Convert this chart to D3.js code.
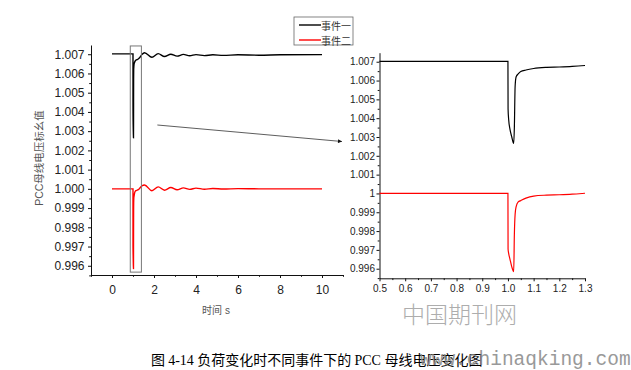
<!DOCTYPE html>
<html>
<head>
<meta charset="utf-8">
<script src="https://cdn.jsdelivr.net/npm/d3@7"></script>
<style>
  body { margin: 0; background: #fff; }
  svg { display: block; }
  .tick text { fill: #222; }
</style>
</head>
<body>
<script>
// time (s) and per-unit PCC bus voltage for the two events
const time = [0, 1.0, 1.0005, 1.003, 1.008, 1.015, 1.0225, 1.025, 1.028, 1.032, 1.04, 1.05, 1.07, 1.1, 1.15, 1.2, 1.25, 1.3,
              1.42, 1.55, 1.9, 2.2, 2.5, 2.8, 3.1, 3.4, 3.7, 4.0, 4.4, 4.8, 5.3, 6, 7, 8, 10];
const event1 = [1.00702, 1.00702, 1.00450, 1.00390, 1.00340, 1.00300, 1.00266, 1.00350, 1.00570, 1.00620, 1.00635, 1.00648, 1.00656, 1.00664, 1.00670, 1.00672, 1.00675, 1.00680,
                1.00698, 1.00708, 1.00684, 1.00703, 1.00688, 1.00700, 1.00690, 1.00699, 1.00692, 1.00698, 1.00693, 1.00697, 1.00694, 1.00697, 1.00695, 1.00697, 1.00698];
const event2 = [1.00000, 1.00000, 0.99705, 0.99680, 0.99650, 0.99610, 0.99585, 0.99780, 0.99890, 0.99930, 0.99955, 0.99962, 0.99975, 0.99986, 0.99991, 0.99993, 0.99996, 1.00001,
                1.00015, 1.00020, 0.99990, 1.00010, 0.99993, 1.00007, 0.99995, 1.00005, 0.99997, 1.00004, 0.99998, 1.00002, 0.99999, 1.00001, 1.00000, 1.00000, 1.00000];
const seriesNames = ["事件一", "事件二"];
const seriesColors = ["#000", "#f00"];

const leftXTicks = [0, 2, 4, 6, 8, 10];
const leftYTicks = [0.996, 0.997, 0.998, 0.999, 1.000, 1.001, 1.002, 1.003, 1.004, 1.005, 1.006, 1.007];
const leftYLabels = ["0.996", "0.997", "0.998", "0.999", "1.000", "1.001", "1.002", "1.003", "1.004", "1.005", "1.006", "1.007"];
const rightXTicks = [0.5, 0.6, 0.7, 0.8, 0.9, 1.0, 1.1, 1.2, 1.3];
const rightXLabels = ["0.5", "0.6", "0.7", "0.8", "0.9", "1.0", "1.1", "1.2", "1.3"];
const rightYLabels = ["0.996", "0.997", "0.998", "0.999", "1", "1.001", "1.002", "1.003", "1.004", "1.005", "1.006", "1.007"];

const width = 631, height = 370;

const svg = d3.select("body").append("svg")
    .attr("width", width)
    .attr("height", height);

const sansFont = "'Liberation Sans', Arial, sans-serif";
const cjkFont = "'Noto Sans CJK SC', sans-serif";

// ---- left panel: whole 0-10 s run
const lx = d3.scaleLinear().domain([-1, 11]).range([91, 343]);
const ly = d3.scaleLinear().domain([0.99552, 1.00748]).range([275, 45]);

// ---- right panel: zoom on 0.5-1.3 s
const rx = d3.scaleLinear().domain([0.5, 1.3]).range([379.5, 585]);
const ry = d3.scaleLinear().domain([0.99549, 1.00748]).range([278.3, 52.7]);

function drawAxes(x, y, o) {
    const xg = svg.append("g")
        .attr("transform", `translate(0,${y.range()[0]})`)
        .call(d3.axisBottom(x).tickValues(o.xTicks).tickFormat((d, i) => o.xLabels[i])
              .tickSize(3).tickSizeOuter(0).tickPadding(o.xPad));
    const yg = svg.append("g")
        .attr("transform", `translate(${x.range()[0]},0)`)
        .call(d3.axisLeft(y).tickValues(leftYTicks).tickFormat((d, i) => o.yLabels[i])
              .tickSize(3).tickSizeOuter(0).tickPadding(o.yPad));
    [xg, yg].forEach(g => {
        g.attr("font-family", sansFont).attr("font-size", o.fontSize);
        g.selectAll("line, path").attr("stroke", "#111").attr("stroke-width", 1);
    });
    // minor ticks
    svg.append("g")
        .attr("transform", `translate(0,${y.range()[0]})`)
        .call(d3.axisBottom(x).tickValues(o.xMinor).tickFormat("").tickSize(1.8).tickSizeOuter(0))
        .call(g => g.select(".domain").remove())
        .selectAll("line").attr("stroke", "#111");
    svg.append("g")
        .attr("transform", `translate(${x.range()[0]},0)`)
        .call(d3.axisLeft(y).tickValues(o.yMinor).tickFormat("").tickSize(1.8).tickSizeOuter(0))
        .call(g => g.select(".domain").remove())
        .selectAll("line").attr("stroke", "#111");
}

const yMinor = d3.range(0, 12).map(i => 0.9955 + i * 0.001);

drawAxes(lx, ly, {
    xTicks: leftXTicks, xLabels: leftXTicks.map(String),
    xMinor: [-1, 1, 3, 5, 7, 9, 11],
    yLabels: leftYLabels, yMinor: yMinor,
    fontSize: 12, xPad: 7, yPad: 3.5
});
drawAxes(rx, ry, {
    xTicks: rightXTicks, xLabels: rightXLabels,
    xMinor: d3.range(0, 8).map(i => 0.55 + i * 0.1),
    yLabels: rightYLabels, yMinor: yMinor,
    fontSize: 10, xPad: 3.7, yPad: 1.5
});

// axis titles
svg.append("text")
    .attr("transform", "translate(39,158) rotate(-90)")
    .attr("text-anchor", "middle")
    .attr("dominant-baseline", "central")
    .attr("font-family", `'Liberation Sans', 'Noto Sans CJK SC', sans-serif`)
    .attr("font-size", 10.5)
    .attr("fill", "#555")
    .text("PCC母线电压标幺值");

svg.append("text")
    .attr("x", 216).attr("y", 310)
    .attr("text-anchor", "middle")
    .attr("dominant-baseline", "central")
    .attr("font-family", `'Liberation Sans', 'Noto Sans CJK SC', sans-serif`)
    .attr("font-size", 10)
    .attr("fill", "#555")
    .text("时间 s");

// lines
const idx = d3.range(time.length);
const seriesValues = [event1, event2];

svg.append("clipPath").attr("id", "rclip")
    .append("rect")
    .attr("x", rx.range()[0]).attr("y", ry.range()[1])
    .attr("width", rx.range()[1] - rx.range()[0])
    .attr("height", ry.range()[0] - ry.range()[1]);

seriesValues.forEach((vals, s) => {
    const leftLine = d3.line()
        .x(i => lx(time[i]))
        .y(i => ly(vals[i]))
        .curve(d3.curveMonotoneX);
    svg.append("path")
        .datum(idx)
        .attr("d", leftLine)
        .attr("fill", "none")
        .attr("stroke", seriesColors[s])
        .attr("stroke-width", 1.4);

    const rightLine = d3.line()
        .x(i => rx(time[i]))
        .y(i => ry(vals[i]))
        .curve(d3.curveMonotoneX);
    svg.append("path")
        .datum(idx)
        .attr("d", rightLine)
        .attr("clip-path", "url(#rclip)")
        .attr("fill", "none")
        .attr("stroke", seriesColors[s])
        .attr("stroke-width", 1.2);
});

// zoom window marker on left panel
svg.append("rect")
    .attr("x", lx(0.87)).attr("y", ly(1.00743))
    .attr("width", lx(1.4) - lx(0.87))
    .attr("height", ly(0.99567) - ly(1.00743))
    .attr("fill", "none")
    .attr("stroke", "#777")
    .attr("stroke-width", 1);

// arrow to the zoomed panel
svg.append("defs").append("marker")
    .attr("id", "arrow")
    .attr("viewBox", "0 0 10 10")
    .attr("refX", 10).attr("refY", 5)
    .attr("markerWidth", 6).attr("markerHeight", 5)
    .attr("orient", "auto")
    .append("path")
    .attr("d", "M0,0L10,5L0,10z")
    .attr("fill", "#111");

svg.append("line")
    .attr("x1", lx(2.16)).attr("y1", ly(1.00332))
    .attr("x2", 342).attr("y2", 141.5)
    .attr("stroke", "#333")
    .attr("stroke-width", 0.8)
    .attr("marker-end", "url(#arrow)");

// legend
const legend = svg.append("g").attr("transform", "translate(294,17)");
legend.append("rect")
    .attr("width", 59).attr("height", 28)
    .attr("fill", "#fff")
    .attr("stroke", "#666")
    .attr("stroke-width", 0.8);
seriesNames.forEach((name, s) => {
    const row = legend.append("g").attr("transform", `translate(0,${8 + s * 15})`);
    row.append("line")
        .attr("x1", 5).attr("x2", 27)
        .attr("stroke", seriesColors[s]).attr("stroke-width", 1.4);
    row.append("text")
        .attr("x", 27).attr("dominant-baseline", "central")
        .attr("font-family", cjkFont).attr("font-size", 10)
        .attr("fill", "#333")
        .text(name);
});

// caption
const caption = svg.append("text")
    .attr("x", 151).attr("y", 365)
    .attr("font-size", 14)
    .attr("fill", "#000");
caption.append("tspan").attr("font-family", cjkFont).text("图 ");
caption.append("tspan").attr("font-family", "'Liberation Serif', serif").text("4-14 ");
caption.append("tspan").attr("font-family", cjkFont).text("负荷变化时不同事件下的 ");
caption.append("tspan").attr("font-family", "'Liberation Serif', serif").text("PCC ");
caption.append("tspan").attr("font-family", cjkFont).text("母线电压变化图");

// site watermarks
svg.append("text")
    .attr("x", 402).attr("y", 313)
    .attr("dominant-baseline", "central")
    .attr("font-family", cjkFont)
    .attr("font-size", 23)
    .attr("font-weight", 300)
    .attr("fill", "#999")
    .attr("opacity", 0.8)
    .text("中国期刊网");

svg.append("text")
    .attr("x", 420).attr("y", 365)
    .attr("font-family", "'Liberation Mono', monospace")
    .attr("font-size", 19.5)
    .attr("fill", "#888")
    .attr("opacity", 0.85)
    .text("www.chinaqking.com");
</script>
</body>
</html>
